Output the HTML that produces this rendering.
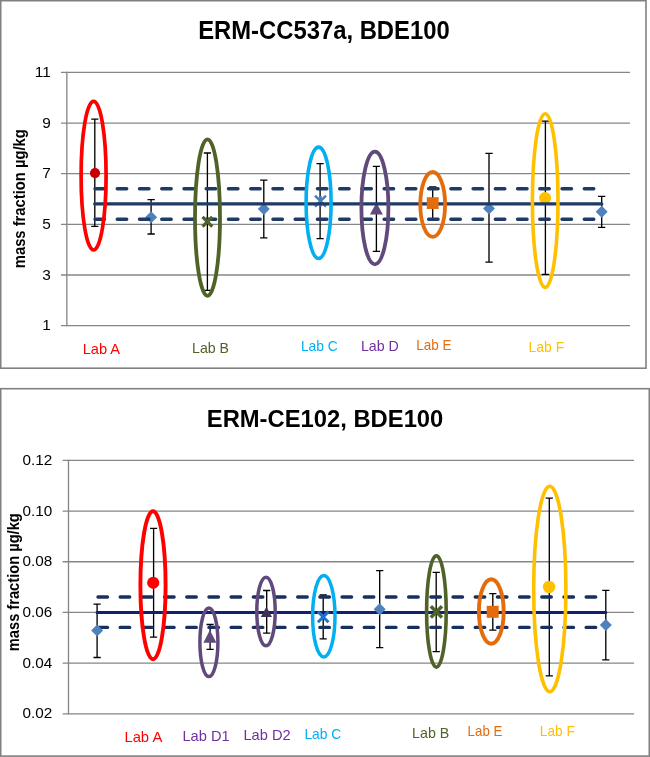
<!DOCTYPE html>
<html><head><meta charset="utf-8"><title>ERM BDE100 charts</title>
<style>
html,body{margin:0;padding:0;background:#fff}
svg{display:block}
text{font-family:"Liberation Sans",sans-serif}
</style></head><body>
<svg width="650" height="757" viewBox="0 0 650 757">
<rect width="650" height="757" fill="#fff"/>
<g id="chart1">
<rect x="0.7" y="0.7" width="645.3" height="367.5" fill="#fff" stroke="#808080" stroke-width="1.6"/>
<path d="M61.0 72.40H630" stroke="#868686" stroke-width="1.33"/>
<path d="M61.0 123.04H630" stroke="#868686" stroke-width="1.33"/>
<path d="M61.0 173.68H630" stroke="#868686" stroke-width="1.33"/>
<path d="M61.0 224.32H630" stroke="#868686" stroke-width="1.33"/>
<path d="M61.0 274.96H630" stroke="#868686" stroke-width="1.33"/>
<path d="M61.0 325.60H630" stroke="#868686" stroke-width="1.33"/>
<path d="M66.85 71.8V326.2" stroke="#868686" stroke-width="1.33"/>
<text x="50.8" y="77.0" font-size="15.4" fill="#000" text-anchor="end">11</text>
<text x="50.8" y="127.6" font-size="15.4" fill="#000" text-anchor="end">9</text>
<text x="50.8" y="178.3" font-size="15.4" fill="#000" text-anchor="end">7</text>
<text x="50.8" y="228.9" font-size="15.4" fill="#000" text-anchor="end">5</text>
<text x="50.8" y="279.6" font-size="15.4" fill="#000" text-anchor="end">3</text>
<text x="50.8" y="330.2" font-size="15.4" fill="#000" text-anchor="end">1</text>
<text x="198.2" y="39.1" font-size="24.9" fill="#000" font-weight="bold" textLength="251.5" lengthAdjust="spacingAndGlyphs">ERM-CC537a, BDE100</text>
<text transform="translate(24.7 268.2) rotate(-90)" font-size="16.2" font-weight="bold" textLength="139" lengthAdjust="spacingAndGlyphs">mass fraction µg/kg</text>
<path d="M151.1 199.7V234.0M147.5 199.7H154.8M147.5 234.0H154.8" stroke="#000" stroke-width="1.33" fill="none"/>
<path d="M151.1 211.2L157.1 217.2L151.1 223.2L145.1 217.2Z" fill="#4F81BD"/>
<path d="M263.8 180.1V237.9M260.1 180.1H267.4M260.1 237.9H267.4" stroke="#000" stroke-width="1.33" fill="none"/>
<path d="M263.8 203.1L269.8 209.1L263.8 215.1L257.8 209.1Z" fill="#4F81BD"/>
<path d="M489.0 153.3V262.1M485.4 153.3H492.7M485.4 262.1H492.7" stroke="#000" stroke-width="1.33" fill="none"/>
<path d="M489.0 202.4L495.0 208.4L489.0 214.4L483.0 208.4Z" fill="#4F81BD"/>
<path d="M601.7 196.4V227.3M598.0 196.4H605.3M598.0 227.3H605.3" stroke="#000" stroke-width="1.33" fill="none"/>
<path d="M601.7 205.8L607.7 211.8L601.7 217.8L595.7 211.8Z" fill="#4F81BD"/>
<path d="M94.8 119.2V226.4M91.2 119.2H98.4M91.2 226.4H98.4" stroke="#000" stroke-width="1.33" fill="none"/>
<path d="M207.4 153.0V290.4M203.8 153.0H211.0M203.8 290.4H211.0" stroke="#000" stroke-width="1.33" fill="none"/>
<path d="M320.1 163.7V238.6M316.5 163.7H323.7M316.5 238.6H323.7" stroke="#000" stroke-width="1.33" fill="none"/>
<path d="M376.4 166.4V251.4M372.8 166.4H380.0M372.8 251.4H380.0" stroke="#000" stroke-width="1.33" fill="none"/>
<path d="M432.7 187.0V219.1M429.1 187.0H436.3M429.1 219.1H436.3" stroke="#000" stroke-width="1.33" fill="none"/>
<path d="M545.4 121.1V274.4M541.8 121.1H549.0M541.8 274.4H549.0" stroke="#000" stroke-width="1.33" fill="none"/>
<circle cx="545.1" cy="198.0" r="6.1" fill="#FFC000"/>
<path d="M315.0 195.7L326.0 206.7M315.0 206.7L326.0 195.7M320.5 195.7V206.7" stroke="#4A7EBB" stroke-width="2.5" fill="none"/>
<path d="M376.4 202.8L382.9 214.4H369.9Z" fill="#604A7B"/>
<path d="M95.0 188.7H601.7M95.0 219.3H601.7" stroke="#1F3A64" stroke-width="3.4" stroke-dasharray="9.5 12.74" stroke-linecap="round" fill="none"/>
<path d="M94.8 203.9H601.7" stroke="#1F3A64" stroke-width="3.4" stroke-linecap="round" fill="none"/>
<circle cx="95.0" cy="173.1" r="5.1" fill="#C80000"/>
<path d="M202.5 216.8L212.3 226.6M202.5 226.6L212.3 216.8" stroke="#4F6228" stroke-width="3.3" fill="none"/>
<rect x="426.8" y="197.2" width="11.8" height="11.8" fill="#E46C0A"/>
<ellipse cx="93.6" cy="175.7" rx="12.5" ry="74.3" fill="none" stroke="#FF0000" stroke-width="3.7"/>
<ellipse cx="207.5" cy="217.6" rx="12.5" ry="78.2" fill="none" stroke="#4F6228" stroke-width="3.8"/>
<ellipse cx="318.6" cy="202.8" rx="12.5" ry="55.7" fill="none" stroke="#00B0F0" stroke-width="3.6"/>
<ellipse cx="374.9" cy="208.0" rx="13.5" ry="56.3" fill="none" stroke="#604A7B" stroke-width="3.8"/>
<ellipse cx="432.7" cy="204.4" rx="12.4" ry="32.4" fill="none" stroke="#E46C0A" stroke-width="3.8"/>
<ellipse cx="545.2" cy="200.6" rx="12.8" ry="86.8" fill="none" stroke="#FFC000" stroke-width="3.6"/>
<text x="82.7" y="354.4" font-size="14.8" fill="#FF0000" textLength="37.4" lengthAdjust="spacingAndGlyphs">Lab A</text>
<text x="192.1" y="353.0" font-size="14.8" fill="#4F6228" textLength="36.9" lengthAdjust="spacingAndGlyphs">Lab B</text>
<text x="300.9" y="351.2" font-size="14.8" fill="#00B0F0" textLength="36.9" lengthAdjust="spacingAndGlyphs">Lab C</text>
<text x="360.9" y="351.2" font-size="14.8" fill="#7030A0" textLength="37.9" lengthAdjust="spacingAndGlyphs">Lab D</text>
<text x="416.3" y="349.6" font-size="14.8" fill="#E46C0A" textLength="35.2" lengthAdjust="spacingAndGlyphs">Lab E</text>
<text x="528.5" y="351.7" font-size="14.8" fill="#FFC000" textLength="35.7" lengthAdjust="spacingAndGlyphs">Lab F</text>
</g>
<g id="chart2">
<rect x="0.7" y="388.7" width="648.6" height="367.4" fill="#fff" stroke="#808080" stroke-width="1.6"/>
<path d="M62.7 460.40H634.1" stroke="#868686" stroke-width="1.33"/>
<path d="M62.7 511.08H634.1" stroke="#868686" stroke-width="1.33"/>
<path d="M62.7 561.76H634.1" stroke="#868686" stroke-width="1.33"/>
<path d="M62.7 612.44H634.1" stroke="#868686" stroke-width="1.33"/>
<path d="M62.7 663.12H634.1" stroke="#868686" stroke-width="1.33"/>
<path d="M62.7 713.80H634.1" stroke="#868686" stroke-width="1.33"/>
<path d="M68.5 459.8V714.4" stroke="#868686" stroke-width="1.33"/>
<text x="52.3" y="465.0" font-size="15.4" fill="#000" text-anchor="end" textLength="29.8" lengthAdjust="spacingAndGlyphs">0.12</text>
<text x="52.3" y="515.7" font-size="15.4" fill="#000" text-anchor="end" textLength="29.8" lengthAdjust="spacingAndGlyphs">0.10</text>
<text x="52.3" y="566.4" font-size="15.4" fill="#000" text-anchor="end" textLength="29.8" lengthAdjust="spacingAndGlyphs">0.08</text>
<text x="52.3" y="617.0" font-size="15.4" fill="#000" text-anchor="end" textLength="29.8" lengthAdjust="spacingAndGlyphs">0.06</text>
<text x="52.3" y="667.7" font-size="15.4" fill="#000" text-anchor="end" textLength="29.8" lengthAdjust="spacingAndGlyphs">0.04</text>
<text x="52.3" y="718.4" font-size="15.4" fill="#000" text-anchor="end" textLength="29.8" lengthAdjust="spacingAndGlyphs">0.02</text>
<text x="206.8" y="426.9" font-size="24.6" fill="#000" font-weight="bold" textLength="236.5" lengthAdjust="spacingAndGlyphs">ERM-CE102, BDE100</text>
<text transform="translate(19.0 651.2) rotate(-90)" font-size="16.2" font-weight="bold" textLength="138" lengthAdjust="spacingAndGlyphs">mass fraction µg/kg</text>
<path d="M97.1 604.1V657.5M93.5 604.1H100.7M93.5 657.5H100.7" stroke="#000" stroke-width="1.33" fill="none"/>
<path d="M379.7 570.6V647.7M376.1 570.6H383.3M376.1 647.7H383.3" stroke="#000" stroke-width="1.33" fill="none"/>
<path d="M605.8 590.3V659.8M602.2 590.3H609.4M602.2 659.8H609.4" stroke="#000" stroke-width="1.33" fill="none"/>
<path d="M153.6 528.3V637.2M150.0 528.3H157.2M150.0 637.2H157.2" stroke="#000" stroke-width="1.33" fill="none"/>
<path d="M210.1 624.5V649.4M206.5 624.5H213.7M206.5 649.4H213.7" stroke="#000" stroke-width="1.33" fill="none"/>
<path d="M266.7 590.5V633.2M263.1 590.5H270.3M263.1 633.2H270.3" stroke="#000" stroke-width="1.33" fill="none"/>
<path d="M323.2 595.0V638.9M319.6 595.0H326.8M319.6 638.9H326.8" stroke="#000" stroke-width="1.33" fill="none"/>
<path d="M436.2 572.4V651.7M432.6 572.4H439.9M432.6 651.7H439.9" stroke="#000" stroke-width="1.33" fill="none"/>
<path d="M492.8 593.6V630.2M489.2 593.6H496.4M489.2 630.2H496.4" stroke="#000" stroke-width="1.33" fill="none"/>
<path d="M549.3 498.2V675.9M545.7 498.2H552.9M545.7 675.9H552.9" stroke="#000" stroke-width="1.33" fill="none"/>
<path d="M98.0 597H605.8M98.0 627.4H605.8" stroke="#17305F" stroke-width="3.4" stroke-dasharray="9.5 12.69" stroke-linecap="round" fill="none"/>
<path d="M97.1 612.5H605.8" stroke="#11206C" stroke-width="3.0" stroke-linecap="round" fill="none"/>
<path d="M97.1 624.6L103.1 630.6L97.1 636.6L91.1 630.6Z" fill="#4F81BD"/>
<path d="M379.7 603.3L385.7 609.3L379.7 615.3L373.7 609.3Z" fill="#4F81BD"/>
<path d="M605.8 618.9L611.8 624.9L605.8 630.9L599.8 624.9Z" fill="#4F81BD"/>
<circle cx="153.2" cy="582.8" r="6.1" fill="#FF0000"/>
<path d="M209.9 630.1L216.4 642.7H203.4Z" fill="#604A7B"/>
<path d="M266.4 606.7L272.0 617.1H260.8Z" fill="#3F3151"/>
<path d="M317.9 611.6L328.5 622.2M317.9 622.2L328.5 611.6" stroke="#1874CD" stroke-width="2.9" fill="none"/>
<path d="M430.8 606.2L442.0 617.4M430.8 617.4L442.0 606.2" stroke="#4F6228" stroke-width="3.5" fill="none"/>
<rect x="486.7" y="605.8" width="12" height="12" fill="#E46C0A"/>
<circle cx="549.1" cy="587.0" r="6.2" fill="#FFC000"/>
<ellipse cx="153.0" cy="585.2" rx="12.6" ry="74.0" fill="none" stroke="#FF0000" stroke-width="3.9"/>
<ellipse cx="208.9" cy="642.3" rx="9.0" ry="34.3" fill="none" stroke="#604A7B" stroke-width="3.5"/>
<ellipse cx="266.0" cy="611.5" rx="9.2" ry="34.3" fill="none" stroke="#604A7B" stroke-width="3.5"/>
<ellipse cx="323.8" cy="616.3" rx="11.2" ry="40.7" fill="none" stroke="#00B0F0" stroke-width="3.5"/>
<ellipse cx="436.4" cy="611.4" rx="9.8" ry="55.7" fill="none" stroke="#4F6228" stroke-width="3.6"/>
<ellipse cx="491.3" cy="611.5" rx="12.4" ry="32.2" fill="none" stroke="#E46C0A" stroke-width="3.9"/>
<ellipse cx="549.8" cy="589.0" rx="16.1" ry="102.7" fill="none" stroke="#FFC000" stroke-width="3.6"/>
<text x="124.4" y="742" font-size="14.8" fill="#FF0000" textLength="37.9" lengthAdjust="spacingAndGlyphs">Lab A</text>
<text x="182.4" y="741" font-size="14.8" fill="#7030A0" textLength="47.2" lengthAdjust="spacingAndGlyphs">Lab D1</text>
<text x="243.4" y="739.6" font-size="14.8" fill="#7030A0" textLength="47.2" lengthAdjust="spacingAndGlyphs">Lab D2</text>
<text x="304.4" y="739.4" font-size="14.8" fill="#00B0F0" textLength="36.9" lengthAdjust="spacingAndGlyphs">Lab C</text>
<text x="412.1" y="738.1" font-size="14.8" fill="#4F6228" textLength="37.2" lengthAdjust="spacingAndGlyphs">Lab B</text>
<text x="467.6" y="735.9" font-size="14.8" fill="#E46C0A" textLength="34.8" lengthAdjust="spacingAndGlyphs">Lab E</text>
<text x="539.8" y="736.2" font-size="14.8" fill="#FFC000" textLength="35.0" lengthAdjust="spacingAndGlyphs">Lab F</text>
</g>
</svg></body></html>
